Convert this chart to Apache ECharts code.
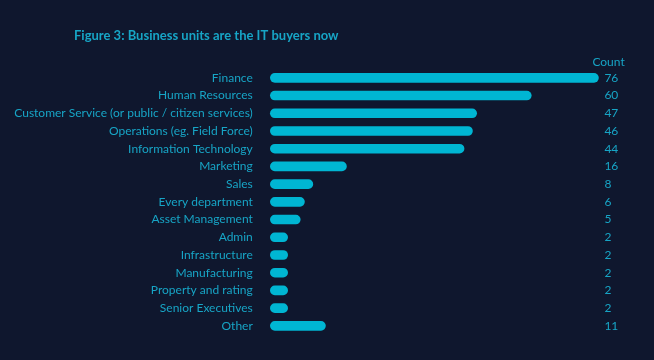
<!DOCTYPE html>
<html><head><meta charset="utf-8">
<script src="https://cdn.jsdelivr.net/npm/echarts@6/dist/echarts.min.js"></script>
<style>html,body{margin:0;padding:0;background:#0f172e;}#c{width:654px;height:360px;}</style>
</head><body><div id="c"></div>
<script>
const categories = ["Finance","Human Resources","Customer Service (or public / citizen services)","Operations (eg. Field Force)","Information Technology","Marketing","Sales","Every department","Asset Management","Admin","Infrastructure","Manufacturing","Property and rating","Senior Executives","Other"];
const counts = [76,60,47,46,44,16,8,6,5,2,2,2,2,2,11];
const title = "Figure 3: Business units are the IT buyers now";
const valueHeader = "Count";

const TXT = '#17a5c6';
const BAR = '#00b6d3';
const FONT = 'Lato';
const chart = echarts.init(document.getElementById('c'), null, {renderer:'canvas'});
chart.setOption({
  backgroundColor: '#0f172e',
  animation: false,
  title: {text: title, left: 74, top: 29, padding: 0, textStyle: {color: TXT, fontSize: 13, fontWeight: 'bold', fontFamily: FONT}},
  grid: {left: 274.8, width: 327.6, top: 69, height: 265.7},
  xAxis: {type: 'value', min: 0, max: 78, show: false},
  yAxis: [
    {type: 'category', data: categories, inverse: true, axisLine: {show:false}, axisTick: {show:false}, splitLine:{show:false},
     axisLabel: {color: TXT, fontSize: 12, fontFamily: FONT, margin: 22}},
    {type: 'category', data: counts.map(String), inverse: true, position: 'right', axisLine: {show:false}, axisTick: {show:false},
     name: valueHeader, nameLocation: 'start', nameGap: 1, nameTextStyle: {color: TXT, fontSize: 12, fontFamily: FONT, align: 'left', padding: [0,0,0,-10]},
     axisLabel: {color: TXT, fontSize: 12, fontFamily: FONT, margin: 2, align: 'left'}}
  ],
  series: [{
    type: 'custom',
    data: counts.map((v,i)=>[v,i]),
    encode: {x: 0, y: 1},
    renderItem: function(params, api){
      const r = 4.8, h = 9.6;
      const s = api.coord([0, api.value(1)]);
      const e = api.coord([api.value(0), api.value(1)]);
      return {type: 'rect', shape: {x: s[0]-r, y: s[1]-h/2, width: e[0]-s[0]+2*r, height: h, r: r}, style: {fill: BAR}};
    }
  }]
});
</script></body></html>
